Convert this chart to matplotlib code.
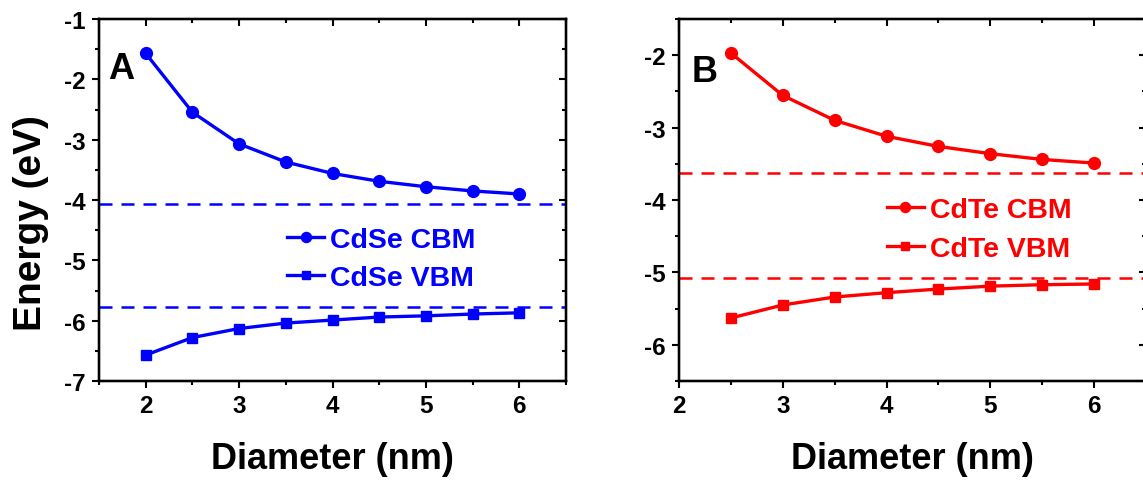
import matplotlib
matplotlib.use("Agg")
import matplotlib.pyplot as plt
from matplotlib.ticker import MultipleLocator

plt.rcParams['font.family'] = ['Liberation Sans', 'DejaVu Sans']
plt.rcParams['font.weight'] = 'bold'
plt.rcParams['axes.unicode_minus'] = False

# ---- Data ----
cdse_d = [2.0, 2.5, 3.0, 3.5, 4.0, 4.5, 5.0, 5.5, 6.0]
cdse_cbm = [-1.57, -2.545, -3.07, -3.37, -3.56, -3.69, -3.78, -3.85, -3.90]
cdse_vbm = [-6.57, -6.28, -6.13, -6.04, -5.99, -5.94, -5.92, -5.89, -5.87]
cdse_ref = [-4.07, -5.78]

cdte_d = [2.5, 3.0, 3.5, 4.0, 4.5, 5.0, 5.5, 6.0]
cdte_cbm = [-1.97, -2.556, -2.90, -3.12, -3.26, -3.36, -3.44, -3.49]
cdte_vbm = [-5.63, -5.45, -5.34, -5.28, -5.23, -5.19, -5.17, -5.16]
cdte_ref = [-3.625, -5.08]

W, H = 1143, 485
fig = plt.figure(figsize=(W / 100, H / 100), dpi=100)

def px_axes(x0, x1, y0, y1):
    return fig.add_axes([x0 / W, (H - y1) / H, (x1 - x0) / W, (y1 - y0) / H])

axA = px_axes(99, 566, 20, 382)
axB = px_axes(679, 1146, 20, 382)

def style(ax, xlim, ylim):
    ax.set_xlim(*xlim)
    ax.set_ylim(*ylim)
    ax.xaxis.set_major_locator(MultipleLocator(1))
    ax.xaxis.set_minor_locator(MultipleLocator(0.5))
    ax.yaxis.set_major_locator(MultipleLocator(1))
    ax.yaxis.set_minor_locator(MultipleLocator(0.5))
    for s in ax.spines.values():
        s.set_linewidth(1.6)
    ax.tick_params(which='both', direction='out', width=1.5,
                   labelsize=17.5, pad=4.5)
    ax.tick_params(which='major', length=5)
    ax.tick_params(which='minor', length=3)
    ax.tick_params(which='both', top=False, right=False)
    for lab in ax.get_xticklabels() + ax.get_yticklabels():
        lab.set_fontweight('bold')
    tw = ax.twinx()
    tw.set_ylim(*ylim)
    tw.yaxis.set_major_locator(MultipleLocator(1))
    tw.yaxis.set_minor_locator(MultipleLocator(0.5))
    tw.tick_params(which='both', direction='in', width=1.5, labelright=False)
    tw.tick_params(which='major', length=5)
    tw.tick_params(which='minor', length=3)
    ty = ax.twiny()
    ty.set_xlim(*xlim)
    ty.xaxis.set_major_locator(MultipleLocator(1))
    ty.xaxis.set_minor_locator(MultipleLocator(0.5))
    ty.tick_params(which='both', direction='in', width=1.5, labeltop=False)
    ty.tick_params(which='major', length=5)
    ty.tick_params(which='minor', length=3)
    for a in (tw, ty):
        for s in a.spines.values():
            s.set_linewidth(1.6)

style(axA, (1.5, 6.5), (-7, -1))
style(axB, (2, 6.5), (-6.5, -1.5))

lw = 2.4
blue = '#0000FF'
red = '#FF0000'
dash = (0, (5.2, 3.6))

axA.plot(cdse_d, cdse_cbm, '-o', color=blue, lw=lw, ms=8.5, label='CdSe CBM', zorder=5)
axA.plot(cdse_d, cdse_vbm, '-s', color=blue, lw=lw, ms=7.6, label='CdSe VBM', zorder=5)
for v in cdse_ref:
    axA.axhline(v, color=blue, lw=1.8, ls=dash)

axB.plot(cdte_d, cdte_cbm, '-o', color=red, lw=lw, ms=8.5, label='CdTe CBM', zorder=5)
axB.plot(cdte_d, cdte_vbm, '-s', color=red, lw=lw, ms=7.6, label='CdTe VBM', zorder=5)
for v in cdte_ref:
    axB.axhline(v, color=red, lw=1.8, ls=dash)

legA = axA.legend(loc='center left', bbox_to_anchor=(0.403, 0.337), frameon=False,
                  prop={'size': 20.5, 'weight': 'bold'}, handlelength=1.3,
                  handletextpad=0.2, borderpad=0, borderaxespad=0, labelspacing=0.45,
                  markerscale=0.85)
for t in legA.get_texts():
    t.set_color(blue)
legB = axB.legend(loc='center left', bbox_to_anchor=(0.445, 0.4185), frameon=False,
                  prop={'size': 20.5, 'weight': 'bold'}, handlelength=1.3,
                  handletextpad=0.2, borderpad=0, borderaxespad=0, labelspacing=0.45,
                  markerscale=0.85)
for t in legB.get_texts():
    t.set_color(red)

axA.text(0.019, 0.912, 'A', transform=axA.transAxes, fontsize=26, fontweight='bold',
         ha='left', va='top', zorder=10)
axB.text(0.026, 0.903, 'B', transform=axB.transAxes, fontsize=26, fontweight='bold',
         ha='left', va='top', zorder=10)

axA.set_ylabel('Energy (eV)', fontsize=28, fontweight='bold')
axA.yaxis.set_label_coords(-0.107, 0.44)
axA.set_xlabel('Diameter (nm)', fontsize=26, fontweight='bold', labelpad=17)
axB.set_xlabel('Diameter (nm)', fontsize=26, fontweight='bold', labelpad=17)

fig.savefig('out.png', dpi=100)
